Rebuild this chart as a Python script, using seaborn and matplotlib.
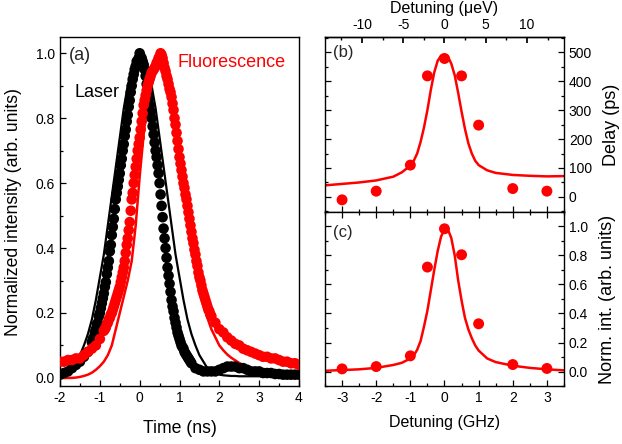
import numpy as np
import pandas as pd
import matplotlib
matplotlib.use("Agg")
import matplotlib.pyplot as plt
import seaborn as sns
from matplotlib.ticker import MultipleLocator, FormatStrFormatter


# ============================================================
# DATA
# ============================================================

# panel (a): fit curves sampled every 0.1 ns from -2 to 4
fit_time_ns = [round(-2.0 + 0.1 * i, 3) for i in range(61)]

laser_fit = [
    0.01, 0.015, 0.02, 0.03, 0.05, 0.07, 0.10, 0.135, 0.18, 0.24,
    0.31, 0.38, 0.47, 0.56, 0.65, 0.74, 0.83, 0.90, 0.95, 0.99,
    1.00, 0.99, 0.95, 0.90, 0.83, 0.74, 0.65, 0.56, 0.47, 0.38,
    0.31, 0.24, 0.18, 0.135, 0.10, 0.07, 0.05, 0.03, 0.02, 0.015,
    0.01, 0.008, 0.007, 0.006, 0.006, 0.005, 0.005, 0.005, 0.005, 0.005,
    0.005, 0.005, 0.005, 0.005, 0.005, 0.005, 0.005, 0.005, 0.005, 0.005,
    0.005,
]

fluo_fit = [
    0.0, 0.0, 0.0, 0.0, 0.001, 0.003, 0.006, 0.01, 0.016, 0.025,
    0.036, 0.05, 0.07, 0.10, 0.15, 0.20, 0.25, 0.30, 0.36, 0.47,
    0.62, 0.75, 0.86, 0.93, 0.97, 0.97, 0.95, 0.90, 0.83, 0.75,
    0.66, 0.57, 0.49, 0.41, 0.34, 0.28, 0.23, 0.185, 0.15, 0.125,
    0.10, 0.085, 0.072, 0.062, 0.054, 0.046, 0.04, 0.034, 0.029, 0.025,
    0.021, 0.018, 0.016, 0.014, 0.012, 0.011, 0.01, 0.009, 0.008, 0.007,
    0.007,
]

# panel (a): measured laser pulse (0.1 ns on the flanks, 0.025 ns on the slopes)
laser_time = ([round(-2.0 + 0.1 * i, 3) for i in range(8)]
              + [round(-1.2 + 0.025 * i, 3) for i in range(101)]
              + [round(1.4 + 0.1 * i, 3) for i in range(27)])
laser_points = [
    0.01, 0.015, 0.02, 0.03, 0.04, 0.05, 0.065, 0.08,
    # -1.2 ... 1.3
    0.11, 0.12, 0.125, 0.14, 0.15, 0.165, 0.17, 0.19, 0.20, 0.215,
    0.23, 0.245, 0.26, 0.28, 0.295, 0.32, 0.34, 0.36, 0.39, 0.41,
    0.44, 0.465, 0.49, 0.52, 0.55, 0.57, 0.59, 0.61, 0.63, 0.655,
    0.675, 0.70, 0.72, 0.745, 0.765, 0.79, 0.81, 0.835, 0.855, 0.88,
    0.90, 0.92, 0.935, 0.95, 0.96, 0.975, 0.97, 0.985,
    1.00, 0.99, 0.985, 0.975, 0.965, 0.95, 0.93, 0.905, 0.88, 0.86,
    0.84, 0.82, 0.80, 0.775, 0.75, 0.725, 0.70, 0.68, 0.655, 0.63,
    0.60, 0.565, 0.53, 0.495, 0.46, 0.43, 0.40, 0.37, 0.34, 0.315,
    0.29, 0.265, 0.24, 0.22, 0.205, 0.185, 0.17, 0.155, 0.14, 0.13,
    0.12, 0.11, 0.10, 0.095, 0.09, 0.08, 0.075, 0.07, 0.065, 0.06,
    0.055, 0.05, 0.045,
    # 1.4 ... 4.0
    0.03, 0.025, 0.02, 0.02, 0.02, 0.02, 0.025, 0.03, 0.035, 0.035,
    0.035, 0.03, 0.03, 0.025, 0.02, 0.02, 0.02, 0.015, 0.015, 0.015,
    0.012, 0.012, 0.01, 0.01, 0.01, 0.01, 0.01,
]

# panel (a): measured fluorescence
fluo_time = ([round(-2.0 + 0.1 * i, 3) for i in range(11)]
             + [round(-0.9 + 0.025 * i, 3) for i in range(109)]
             + [round(1.9 + 0.1 * i, 3) for i in range(22)])
fluo_points = [
    0.05, 0.05, 0.055, 0.055, 0.06, 0.06, 0.07, 0.08, 0.09, 0.10, 0.12,
    # -0.9 ... 1.8
    0.145, 0.15, 0.155, 0.165, 0.17, 0.18, 0.185, 0.195, 0.20, 0.21,
    0.22, 0.23, 0.24, 0.25, 0.26, 0.27, 0.28, 0.295, 0.31, 0.325,
    0.34, 0.36, 0.385, 0.41, 0.43, 0.455, 0.48, 0.515, 0.55, 0.57,
    0.60, 0.625, 0.65, 0.675, 0.70, 0.72,
    0.74, 0.765, 0.79, 0.815, 0.84, 0.855, 0.87, 0.885, 0.90, 0.91,
    0.92, 0.93, 0.94, 0.945, 0.95, 0.955, 0.96, 0.97, 0.975, 0.985,
    0.99, 1.00, 0.995, 0.985, 0.97, 0.955, 0.945, 0.93, 0.92, 0.905,
    0.89, 0.88, 0.865, 0.845, 0.825, 0.80, 0.78, 0.755, 0.73, 0.705,
    0.68, 0.66, 0.64, 0.62, 0.60, 0.585, 0.565, 0.55, 0.53, 0.51,
    0.49, 0.47, 0.45, 0.43, 0.415, 0.395, 0.38, 0.36, 0.345, 0.325,
    0.31, 0.30, 0.285, 0.27, 0.26, 0.25, 0.24, 0.23, 0.22, 0.21,
    0.205, 0.195, 0.19,
    # 1.9 ... 4.0
    0.17, 0.15, 0.14, 0.125, 0.115, 0.105, 0.10, 0.09, 0.085, 0.08,
    0.075, 0.07, 0.065, 0.065, 0.06, 0.06, 0.055, 0.05, 0.05, 0.045,
    0.045, 0.04,
]

assert len(laser_time) == len(laser_points)
assert len(fluo_time) == len(fluo_points)

# panels (b) and (c): detuning in GHz
detuning_ghz = [-3, -2, -1, -0.5, 0, 0.5, 1, 2, 3]
delay_ps = [-10, 20, 110, 418, 478, 418, 248, 29, 20]
norm_int = [0.018, 0.034, 0.108, 0.72, 0.984, 0.805, 0.329, 0.048, 0.021]

fit_x_ghz = [
    -3.5, -3.0, -2.5, -2.0, -1.5, -1.25, -1.0, -0.9, -0.8, -0.7,
    -0.6, -0.5, -0.4, -0.3, -0.2, -0.1, 0.0, 0.1, 0.2, 0.3,
    0.4, 0.5, 0.6, 0.7, 0.8, 0.9, 1.0, 1.25, 1.5, 2.0,
    2.5, 3.0, 3.5,
]
delay_fit = [
    40, 45, 50, 57, 70, 85, 108, 125, 150, 190,
    240, 300, 370, 430, 470, 488, 492, 485, 460, 420,
    360, 295, 235, 185, 150, 125, 110, 92, 83, 76,
    73, 71, 72,
]
norm_fit = [
    0.005, 0.01, 0.015, 0.025, 0.045, 0.06, 0.09, 0.11, 0.15, 0.21,
    0.31, 0.42, 0.56, 0.70, 0.83, 0.93, 0.98, 0.98, 0.92, 0.80,
    0.63, 0.49, 0.37, 0.29, 0.23, 0.18, 0.145, 0.09, 0.065, 0.04,
    0.025, 0.015, 0.008,
]

GHZ_TO_UEV = 4.1357
RED = "#ff0000"


# ============================================================
# STYLE
# ============================================================

sns.set_theme(style="ticks")
plt.rcParams["font.family"] = ["Liberation Sans", "DejaVu Sans"]
plt.rcParams["axes.unicode_minus"] = False
plt.rcParams["axes.linewidth"] = 1.0
plt.rcParams["axes.edgecolor"] = "black"


def style_ticks(ax):
    ax.tick_params(which="both", direction="in", colors="black", labelsize=10,
                   width=0.9)
    ax.tick_params(which="major", length=4)
    ax.tick_params(which="minor", length=2.5)


# ============================================================
# FIGURE
# ============================================================

fig = plt.figure(figsize=(6.22, 4.44), dpi=100)
ax_a = fig.add_axes([0.0965, 0.1306, 0.3842, 0.786])
ax_b = fig.add_axes([0.5225, 0.5225, 0.3842, 0.394])
ax_c = fig.add_axes([0.5225, 0.1306, 0.3842, 0.392], sharex=ax_b)

# ---------------- panel (a) ----------------
df_laser = pd.DataFrame({"time": laser_time, "intensity": laser_points})
df_fluo = pd.DataFrame({"time": fluo_time, "intensity": fluo_points})
df_fits = pd.DataFrame({"time": fit_time_ns, "laser": laser_fit, "fluo": fluo_fit})

sns.lineplot(data=df_fits, x="time", y="laser", ax=ax_a, color="black",
             lw=1.6, estimator=None, zorder=2)
sns.lineplot(data=df_fits, x="time", y="fluo", ax=ax_a, color=RED,
             lw=1.8, estimator=None, zorder=2)
sns.scatterplot(data=df_laser, x="time", y="intensity", ax=ax_a, color="black",
                s=58, edgecolor="none", zorder=3)
sns.scatterplot(data=df_fluo, x="time", y="intensity", ax=ax_a, color=RED,
                s=58, edgecolor="none", zorder=3)

ax_a.set_xlim(-2, 4)
ax_a.set_ylim(-0.025, 1.05)
ax_a.xaxis.set_major_locator(MultipleLocator(1))
ax_a.xaxis.set_minor_locator(MultipleLocator(0.5))
ax_a.yaxis.set_major_locator(MultipleLocator(0.2))
ax_a.yaxis.set_minor_locator(MultipleLocator(0.1))
ax_a.yaxis.set_major_formatter(FormatStrFormatter("%.1f"))
style_ticks(ax_a)
ax_a.set_xlabel("Time (ns)", fontsize=12.7, color="black", labelpad=11)
ax_a.set_ylabel("Normalized intensity (arb. units)", fontsize=12.7,
                color="black", labelpad=10)

ax_a.text(0.038, 0.948, "(a)", transform=ax_a.transAxes, fontsize=13,
          va="center", ha="left")
ax_a.text(0.059, 0.84, "Laser", transform=ax_a.transAxes, fontsize=13,
          va="center", ha="left", color="black")
ax_a.text(0.49, 0.928, "Fluorescence", transform=ax_a.transAxes, fontsize=13,
          va="center", ha="left", color=RED)

# ---------------- panel (b) ----------------
df_pts = pd.DataFrame({"det": detuning_ghz, "delay": delay_ps, "norm": norm_int})
df_fit = pd.DataFrame({"det": fit_x_ghz, "delay": delay_fit, "norm": norm_fit})

sns.scatterplot(data=df_pts, x="det", y="delay", ax=ax_b, color=RED,
                s=62, edgecolor="none", zorder=3)
sns.lineplot(data=df_fit, x="det", y="delay", ax=ax_b, color=RED,
             lw=1.8, estimator=None, zorder=2)

ax_b.set_xlim(-3.5, 3.5)
ax_b.set_ylim(-52, 552)
ax_b.yaxis.set_major_locator(MultipleLocator(100))
ax_b.yaxis.set_minor_locator(MultipleLocator(50))
ax_b.xaxis.set_major_locator(MultipleLocator(1))
ax_b.xaxis.set_minor_locator(MultipleLocator(0.5))
ax_b.yaxis.tick_right()
ax_b.yaxis.set_label_position("right")
ax_b.tick_params(which="both", left=True, right=True, top=False,
                 labelbottom=False)
style_ticks(ax_b)
ax_b.set_xlabel("")
ax_b.set_ylabel("Delay (ps)", fontsize=13, color="black", labelpad=8)
ax_b.text(0.033, 0.91, "(b)", transform=ax_b.transAxes, fontsize=12,
          va="center", ha="left")

top = ax_b.secondary_xaxis("top", functions=(lambda g: g * GHZ_TO_UEV,
                                             lambda u: u / GHZ_TO_UEV))
top.xaxis.set_major_locator(MultipleLocator(5))
top.xaxis.set_minor_locator(MultipleLocator(2.5))
top.tick_params(which="both", direction="in", labelsize=10, colors="black")
top.tick_params(which="major", length=4)
top.tick_params(which="minor", length=2.5)
top.set_xlabel("Detuning (\u03bceV)", fontsize=11.5, color="black")

# ---------------- panel (c) ----------------
sns.scatterplot(data=df_pts, x="det", y="norm", ax=ax_c, color=RED,
                s=62, edgecolor="none", zorder=3)
sns.lineplot(data=df_fit, x="det", y="norm", ax=ax_c, color=RED,
             lw=1.8, estimator=None, zorder=2)

ax_c.set_ylim(-0.1, 1.1)
ax_c.yaxis.set_major_locator(MultipleLocator(0.2))
ax_c.yaxis.set_minor_locator(MultipleLocator(0.1))
ax_c.yaxis.set_major_formatter(FormatStrFormatter("%.1f"))
ax_c.yaxis.tick_right()
ax_c.yaxis.set_label_position("right")
ax_c.tick_params(which="both", left=True, right=True, top=True)
style_ticks(ax_c)
ax_c.set_xlabel("Detuning (GHz)", fontsize=11.5, color="black", labelpad=7)
ax_c.set_ylabel("Norm. int. (arb. units)", fontsize=13, color="black",
                labelpad=8)
ax_c.text(0.033, 0.88, "(c)", transform=ax_c.transAxes, fontsize=12,
          va="center", ha="left")

for ax in (ax_a, ax_b, ax_c):
    for side in ax.spines.values():
        side.set_visible(True)
        side.set_color("black")

fig.savefig("out.png", dpi=100)
